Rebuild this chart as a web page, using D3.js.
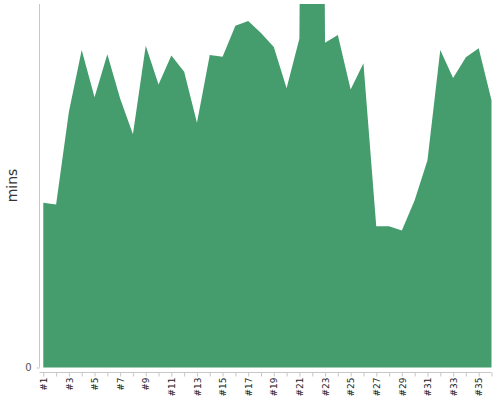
<!DOCTYPE html>
<html><head><meta charset="utf-8">
<script src="https://cdn.jsdelivr.net/npm/d3@7"></script>
<style>body{margin:0;background:#fff}</style>
</head><body><svg id="c" width="500" height="400"></svg>
<script>
const labels = Array.from({length:36},(_,i)=>"#"+(i+1));
const values = [27.2,26.9,42.2,52.4,44.6,51.7,44.4,38.5,53.1,46.7,51.5,48.8,40.4,51.6,51.3,56.4,57.2,55.2,52.9,46.1,54.3,400,53.6,54.9,45.9,50.2,23.3,23.3,22.6,27.6,34.2,52.4,47.8,51.2,52.7,44.1];
const yDomain = [0, 60];
const yLabel = "mins";

const svg = d3.select("#c");
const x = d3.scalePoint().domain(labels).range([43.3, 491.5]);
const y = d3.scaleLinear().domain(yDomain).range([367.5, 4]);

svg.append("defs").append("clipPath").attr("id","clip")
  .append("rect").attr("x",40).attr("y",4).attr("width",460).attr("height",364);

const area = d3.area().x((d,i)=>x(labels[i])).y0(y(0)).y1(d=>y(d));
svg.append("path").datum(values).attr("clip-path","url(#clip)")
  .attr("fill","#459c6d").attr("d",area);

// y axis
const ya = svg.append("g").attr("transform","translate(39.5,0)")
  .call(d3.axisLeft(y).tickValues([0]).tickSize(3).tickPadding(5));
ya.select(".domain").attr("stroke","#c8c8c8").attr("d","M0,4V367.5");
ya.selectAll(".tick line").attr("stroke","#c8c8c8");
ya.selectAll("text").attr("font-family","DejaVu Sans").attr("font-size",10).attr("fill","#555");

// x axis
const xa = svg.append("g").attr("transform","translate(0,372.5)")
  .call(d3.axisBottom(x).tickSize(4).tickSizeOuter(0).tickFormat((d,i)=> i%2===0 ? d : ""));
xa.select(".domain").attr("stroke","#c8c8c8").attr("d","M39.5,0H491.5");
xa.selectAll(".tick line").attr("stroke","#c8c8c8");
xa.selectAll("text").attr("font-family","DejaVu Sans").attr("font-size",9).attr("fill","#222")
  .attr("transform","rotate(-90)").attr("text-anchor","end").attr("x",-5).attr("y",0).attr("dy","0.35em");

svg.append("text").attr("transform","translate(17,185.5) rotate(-90)")
  .attr("text-anchor","middle").attr("font-family","DejaVu Sans").attr("font-size",14)
  .attr("fill","#333").text(yLabel);
</script></body></html>
